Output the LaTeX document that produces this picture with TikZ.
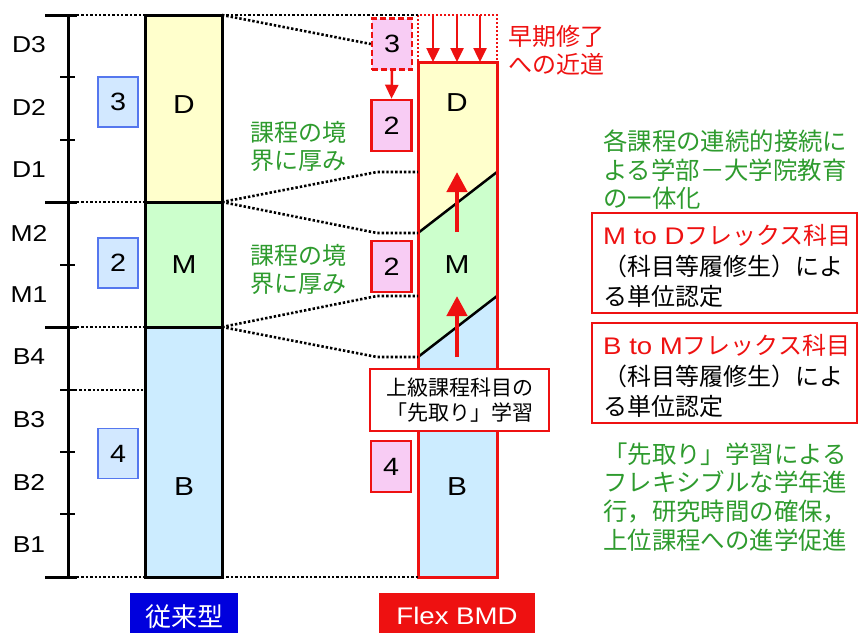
\documentclass[tikz,border=0pt]{standalone}
\usepackage{fontspec}
\setmainfont{Liberation Sans}[FakeStretch=1.15]
\newfontfamily\jp{Noto Sans CJK JP}
\usetikzlibrary{arrows.meta}
\definecolor{dyel}{HTML}{FFFFCC}
\definecolor{mgrn}{HTML}{CCFFCC}
\definecolor{bblu}{HTML}{CCECFF}
\definecolor{nfill}{HTML}{D2E8FF}
\definecolor{nbord}{HTML}{5577EE}
\definecolor{pinkf}{HTML}{F8CCF4}
\definecolor{fred}{HTML}{EE1111}
\definecolor{tgrn}{HTML}{2E9B2E}
\definecolor{lblue}{HTML}{0000DD}
\begin{document}
\begin{tikzpicture}[x=1pt,y=-1pt,
  axis/.style={line width=3pt},
  dotline/.style={line width=2.6pt,dash pattern=on 2.4pt off 2pt},
  colbox/.style={line width=3pt},
  nbox/.style={draw=nbord,fill=nfill,line width=1.2pt,minimum width=40pt,minimum height=50pt,inner sep=0pt,font=\fontsize{25}{25}\selectfont},
  pbox/.style={draw=fred,fill=pinkf,line width=2.5pt,minimum width=40pt,minimum height=51pt,inner sep=0pt,font=\fontsize{25}{25}\selectfont},
  ylab/.style={font=\fontsize{23}{23}\selectfont,inner sep=0pt},
  biglab/.style={font=\fontsize{26}{26}\selectfont,inner sep=0pt},
  gtext/.style={text=tgrn,align=left,inner sep=0pt,anchor=west},
  upar/.style={draw=fred,line width=4.5pt,-{Triangle[width=20pt,length=20pt]}},
  dnar/.style={draw=fred,line width=2.5pt,-{Triangle[width=13pt,length=14pt]}},
]
\useasboundingbox (0,0) rectangle (858,632);

% ---------------- left axis ----------------
\draw[axis] (68,15) -- (68,577);
\foreach \y in {15,202,327,577} \draw[axis] (45,\y) -- (77,\y);
\foreach \y in {77,140,265,390,452,514} \draw[line width=2.5pt] (60,\y) -- (75,\y);
\foreach \y/\t in {45/D3,107/D2,170/D1,233/M2,295/M1,357/B4,420/B3,482/B2,545/B1}
  \node[ylab] at (29,\y) {\t};

% ---------------- left column ----------------
\fill[dyel] (145,15) rectangle (222,202);
\fill[mgrn] (145,202) rectangle (222,327);
\fill[bblu] (145,327) rectangle (222,577);
\draw[colbox] (145,15) rectangle (222,577);
\draw[colbox] (145,202) -- (222,202);
\draw[colbox] (145,327) -- (222,327);
\node[biglab] (LD) at (184,105) {D};
\node[biglab] (LM) at (184,265) {M};
\node[biglab] (LB) at (184,487) {B};

\foreach \y in {15,202,327,577} \draw[dotline] (77,\y) -- (145,\y);
\draw[dotline] (75,390) -- (145,390);

\node[nbox] (n3) at (118,102) {3};
\node[nbox] (n2) at (118,263) {2};
\node[nbox] (n4) at (118,453.5) {4};

\node[fill=lblue,text=white,minimum width=108pt,minimum height=46pt,inner sep=0pt,anchor=north,
      font=\jp\fontsize{26}{26}\selectfont] (old) at (184,593) {従来型};

% ---------------- right column ----------------
\fill[dyel] (418,62) -- (497,62) -- (497,172) -- (418,233) -- cycle;
\fill[mgrn] (418,233) -- (497,172) -- (497,296) -- (418,357) -- cycle;
\fill[bblu] (418,357) -- (497,296) -- (497,577) -- (418,577) -- cycle;
\draw[line width=2.5pt] (418,233) -- (497,172);
\draw[line width=2.5pt] (418,357) -- (497,296);
\draw[colbox,draw=fred] (418,62) rectangle (497,577);
\node[biglab] (RD) at (457,103) {D};
\node[biglab] (RM) at (457,265) {M};
\node[biglab] (RB) at (457,487) {B};

\coordinate (a1) at (457,232);
\coordinate (a1t) at (457,172);
\coordinate (a2) at (457,357);
\coordinate (a2t) at (457,296);
\draw[upar] (a1) -- (a1t);
\draw[upar] (a2) -- (a2t);

% dotted red box with arrows
\draw[draw=fred,line width=2pt,dash pattern=on 2pt off 2pt] (418,15) rectangle (497,62);
\foreach \x in {433,457,480} \draw[dnar] (\x,15) -- (\x,62);

% pink boxes
\node[pbox,dash pattern=on 6pt off 3pt] (p3) at (392,44) {3};
\node[pbox] (p2a) at (391.5,125.5) {2};
\node[pbox] (p2b) at (391.5,266.5) {2};
\node[pbox] (p4) at (391,466.5) {4};
\draw[dnar] (p3.south) -- (p2a.north);

% dotted connectors between columns
\draw[dotline] (222,15) -- (418,15);
\draw[dotline] (222,15) -- (p3.west);
\draw[dotline] (222,202) -- (377,172) -- (418,172);
\draw[dotline] (222,202) -- (377,233) -- (418,233);
\draw[dotline] (222,327) -- (377,296) -- (418,296);
\draw[dotline] (222,327) -- (377,357) -- (418,357);
\draw[dotline] (222,577) -- (418,577);

% callout
\node[draw=fred,fill=white,line width=1.2pt,minimum width=179pt,minimum height=62pt,inner sep=0pt,
      align=center,font=\jp\fontsize{21}{25}\selectfont] (call) at (459.5,400)
      {上級課程科目の\\「先取り」学習};

\node[fill=fred,text=white,minimum width=156pt,minimum height=46pt,inner sep=0pt,anchor=north,
      font=\fontsize{24}{24}\selectfont] (flex) at (457,593) {Flex BMD};

% texts
\node[gtext,font=\jp\fontsize{24}{28}\selectfont] (g1) at (250,146) {課程の境\\界に厚み};
\node[gtext,font=\jp\fontsize{24}{28}\selectfont] (g2) at (250,269) {課程の境\\界に厚み};
\node[gtext,text=fred,font=\jp\fontsize{24}{28}\selectfont] (early) at (508,50) {早期修了\\への近道};

\node[gtext,font=\jp\fontsize{24.4}{28.5}\selectfont] (g3) at (603,170)
  {各課程の連続的接続に\\よる学部－大学院教育\\の一体化};

\draw[draw=fred,line width=1.2pt] (592,213) rectangle (857,313);
\node[gtext,text=black,font=\jp\fontsize{24}{30.5}\selectfont] (md) at (603,266)
  {\textcolor{fred}{{\rmfamily\fontsize{24}{30.5}\selectfont M to D}フレックス科目}\\（科目等履修生）によ\\る単位認定};
\draw[draw=fred,line width=1.2pt] (592,323) rectangle (857,423);
\node[gtext,text=black,font=\jp\fontsize{24}{30.5}\selectfont] (bm) at (603,376)
  {\textcolor{fred}{{\rmfamily\fontsize{24}{30.5}\selectfont B to M}フレックス科目}\\（科目等履修生）によ\\る単位認定};

\node[gtext,font=\jp\fontsize{24.4}{28.7}\selectfont] (g4) at (603,497)
  {「先取り」学習による\\フレキシブルな学年進\\行，研究時間の確保，\\上位課程への進学促進};
\end{tikzpicture}
\end{document}
